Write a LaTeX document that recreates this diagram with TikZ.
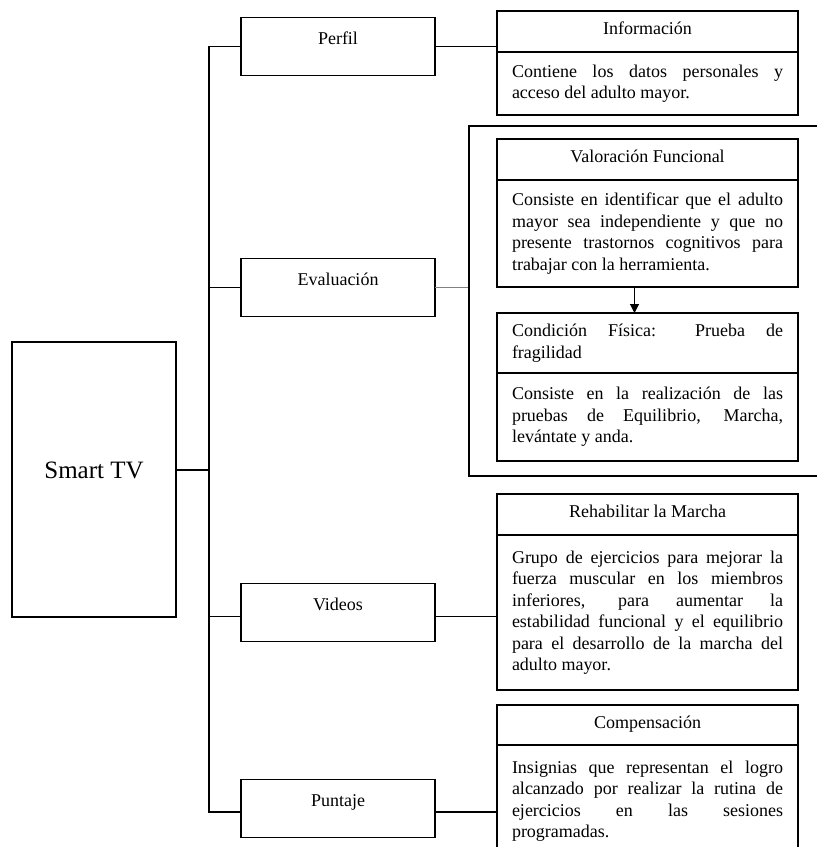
\documentclass[tikz,border=0pt]{standalone}
\usepackage{fontspec}
\setmainfont{Liberation Serif}
\usetikzlibrary{positioning}
\usetikzlibrary{arrows.meta}

\newcommand{\boxfont}{\fontsize{18}{21.5}\selectfont}
\newcommand{\bigfont}{\fontsize{25}{30}\selectfont}
\tolerance=10000
\hbadness=10000
\hyphenpenalty=10000

\tikzset{
  menu/.style={draw, line width=1.2pt, outer sep=0pt, minimum width=194pt, minimum height=57.5pt, font=\boxfont, text height=13pt, text depth=18pt},
  head/.style={draw, line width=1.2pt, outer sep=0pt, minimum width=301pt, font=\boxfont, text height=13pt, text depth=7pt},
  body/.style={draw, line width=1.2pt, outer sep=0pt, minimum width=301pt, text width=271pt, align=justify, font=\boxfont},
  link/.style={line width=1.1pt}
}

\begin{document}
\begin{tikzpicture}[x=1pt, y=-1pt]
            \useasboundingbox (0,0) rectangle (817,847);

            % Main box and the menu options
            \node[draw, line width=1.2pt, minimum width=164pt, minimum height=275pt, font=\bigfont, text height=18pt, text depth=21pt] (stv) at (94,479.5) {Smart TV};
            \node[menu] (perfil) at (338,46.5) {Perfil};
            \node[menu] (evaluacion) at (338,287.5) {Evaluación};
            \node[menu] (videos) at (338,612.5) {Videos};
            \node[menu] (puntaje) at (338,808.5) {Puntaje};
            \coordinate (trunk) at (209,470);

            % Frame around the evaluation boxes (runs past the right edge)
            \node[draw, line width=2.8pt, minimum width=353pt, minimum height=350pt] (marco) at (645.5,301) {};

            % Description boxes
            \node[head, minimum height=41pt, anchor=north west] (infoT) at (497,11) {Información};
            \node[body, minimum height=63pt, below=0pt of infoT] (infoB) {Contiene los datos personales y\linebreak acceso del adulto mayor.};

            \node[head, minimum height=41pt, anchor=north west] (valT) at (497,139) {Valoración Funcional};
            \node[body, minimum height=107pt, below=0pt of valT] (valB) {Consiste en identificar que el adulto\linebreak mayor sea independiente y que no\linebreak presente trastornos cognitivos para\linebreak trabajar con la herramienta.};

            \node[body, minimum height=60pt, anchor=north west] (condT) at (497,313) {Condición Física: Prueba de\linebreak fragilidad};
            \node[body, minimum height=88pt, below=0pt of condT] (condB) {Consiste en la realización de las\linebreak pruebas de Equilibrio, Marcha,\linebreak levántate y anda.};

            \node[head, minimum height=41pt, anchor=north west] (rehabT) at (497,494) {Rehabilitar la Marcha};
            \node[body, minimum height=155pt, below=0pt of rehabT] (rehabB) {Grupo de ejercicios para mejorar la\linebreak fuerza muscular en los miembros\linebreak inferiores, para aumentar la\linebreak estabilidad funcional y el equilibrio\linebreak para el desarrollo de la marcha del\linebreak adulto mayor.};

            \node[head, minimum height=40pt, anchor=north west] (compT) at (497,705) {Compensación};
            \node[body, minimum height=112pt, below=0pt of compT] (compB) {Insignias que representan el logro\linebreak alcanzado por realizar la rutina de\linebreak ejercicios en las sesiones\linebreak programadas.};

            % Connectors
            \draw[link] (perfil.west) -| (trunk) |- ([yshift=-3.5pt]puntaje.west);
            \draw[link] (evaluacion.west) -- (evaluacion.west -| trunk);
            \draw[link] ([yshift=-4pt]videos.west) -- ([yshift=-4pt]videos.west -| trunk);
            \draw[link] (stv.east |- trunk) -- (trunk);

            \draw[link] (perfil.east) -- (perfil.east -| infoT.west);
            \draw[link, gray, line width=1.8pt] (evaluacion.east) -- (evaluacion.east -| marco.west);
            \draw[link] ([yshift=-4pt]videos.east) -- ([yshift=-4pt]videos.east -| rehabB.west);
            \draw[link] ([yshift=-3.5pt]puntaje.east) -- ([yshift=-3.5pt]puntaje.east -| compB.west);
            \draw[link, -{Triangle[width=9pt,length=9pt]}] ([xshift=-13pt]valB.south) -- ([xshift=-13pt]condT.north);
        \end{tikzpicture}
\end{document}
